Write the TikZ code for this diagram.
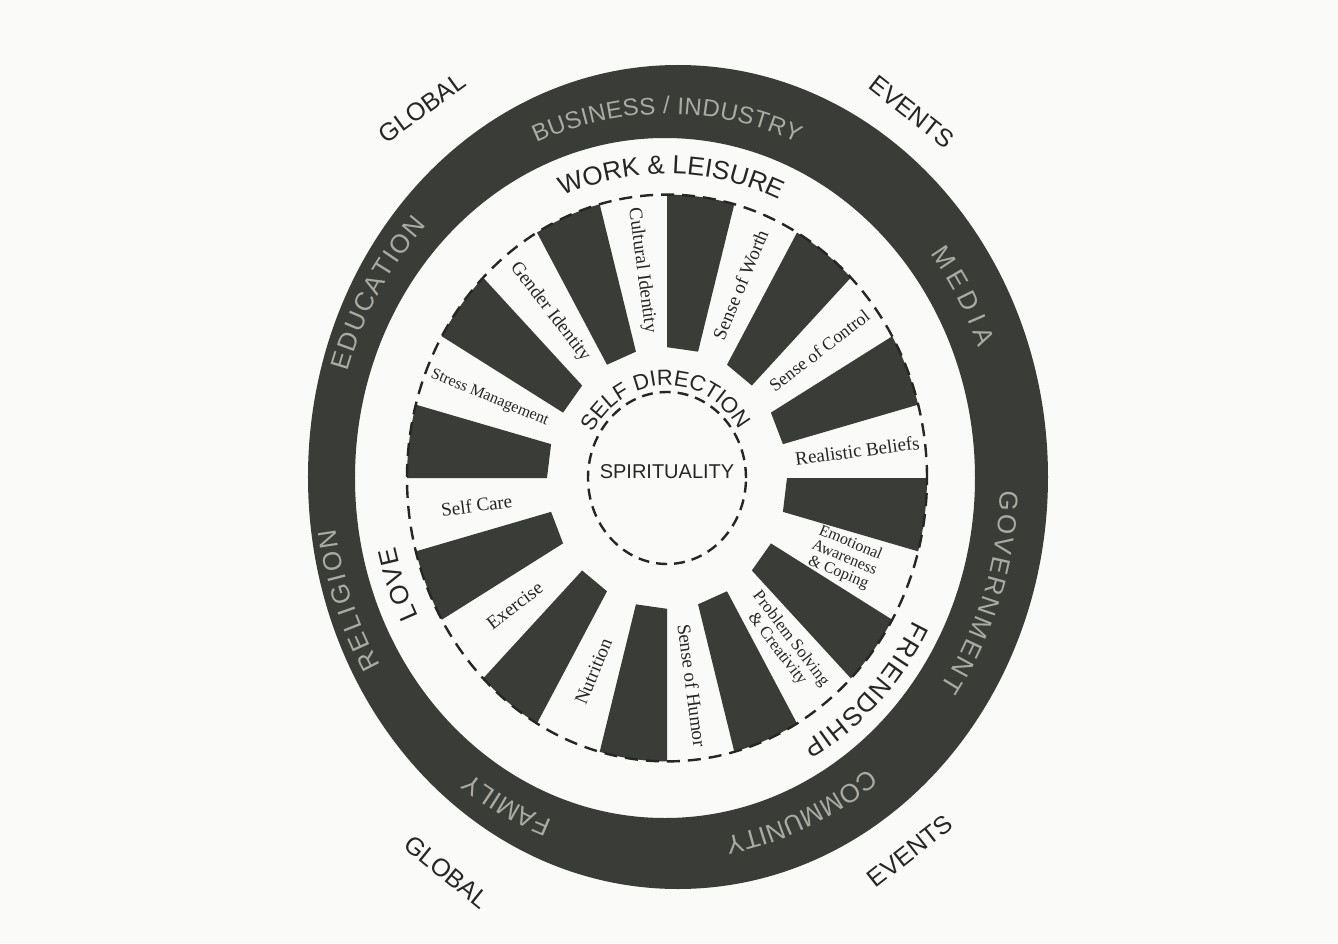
\documentclass[tikz,border=0pt]{standalone}
\usepackage{fontspec}
\setmainfont{Liberation Serif}
\setsansfont{Liberation Sans}
\usetikzlibrary{decorations.text}

\definecolor{paper}{RGB}{250,250,248}
\definecolor{ringdark}{RGB}{58,60,55}
\definecolor{ringtext}{RGB}{168,170,163}
\definecolor{inkdark}{RGB}{38,38,36}

\newcommand{\ringfont}[1]{\sffamily\fontsize{#1}{#1}\selectfont\color{ringtext}}
\newcommand{\bandfont}{\sffamily\fontsize{26}{26}\selectfont\color{inkdark}}
% curved text: radius, from angle, to angle, font, text
\newcommand{\arctext}[5]{%
    \path[decorate,decoration={text along path,text align=fit to path,text={|#4|#5}}]
        ({#1*cos(#2)},{#1*sin(#2)}) arc[start angle=#2,end angle=#3,x radius=#1pt,y radius=1.09*#1pt];
}

\begin{document}
\begin{tikzpicture}[
            x=1pt,y=1.09pt,
            every node/.style={
                inner sep=1pt,text=inkdark
            },
            spoke/.style={align=center,font=\rmfamily},
            outer label/.style={font=\sffamily\fontsize{25}{25}\selectfont},
            dashline/.style={inkdark,line width=2.4pt,dash pattern=on 13pt off 8pt}
        ]
    \useasboundingbox (-667pt,-465pt) rectangle (671pt,478pt);
    \fill[paper] (-667pt,-465pt) rectangle (671pt,478pt);
    % Rings
        \fill[ringdark,even odd rule] (11pt,1pt) ellipse (370pt and 412pt)
            (-2pt,0pt) ellipse (310pt and 340pt);
    \foreach\a in {0,30,...,330}{
        \fill[ringdark] ({120*cos(\a-15)},{120*sin(\a-15)}) -- ({120*cos(\a)},{120*sin(\a)})
            -- ({260*cos(\a)},{260*sin(\a)}) arc[start angle=\a,end angle=\a-15,x radius=260pt,y radius=283.4pt] -- cycle;
    }
        \draw[dashline] (0,0) ellipse (260pt and 283.4pt);
        \draw[dashline,dash pattern=on 11pt off 7pt] (0,0) ellipse (79pt and 86pt);
    % Spokes
    \foreach\a/\fs/\txt [count=\k] in {7.5/19/Realistic Beliefs,37.5/18/Sense of Control,
            67.5/19/Sense of Worth,97.5/19/Cultural Identity,127.5/19/Gender Identity,
            157.5/16/Stress Management,187.5/19/Self Care,217.5/19/Exercise,
            247.5/19/Nutrition,277.5/19/Sense of Humor,307.5/17/Problem Solving\\ \& Creativity,
            337.5/16/Emotional\\ Awareness\\ \& Coping}{
        \pgfmathsetmacro\rot{(\a>90 && \a<270) ? \a-180 : \a}
        \node[spoke,rotate=\rot,font=\rmfamily\fontsize{\fs}{\fs}\selectfont] (spoke\k)
            at ({192*cos(\a)},{192*sin(\a)}) {\txt};
    }
    % Labels
        \node[font=\sffamily\fontsize{20}{20}\selectfont] (spirit) at (0pt,6pt) {SPIRITUALITY};
        \arctext{85}{151}{32}{\sffamily\fontsize{22}{22}\selectfont\color{inkdark}}{SELF DIRECTION}
        \arctext{279}{112}{67}{\bandfont}{WORK {\&} LEISURE}
        \arctext{279}{207}{193}{\bandfont}{LOVE}
        \arctext{279}{-28}{-61}{\bandfont}{FRIENDSHIP}
        \arctext{334}{113}{67}{\ringfont{24}}{BUSINESS / INDUSTRY}
        \arctext{334}{38}{21}{\ringfont{26}}{MEDIA}
        \arctext{334}{-2}{-35}{\ringfont{26}}{GOVERNMENT}
        \arctext{334}{-53}{-80}{\ringfont{26}}{COMMUNITY}
        \arctext{334}{250}{234}{\ringfont{26}}{FAMILY}
        \arctext{334}{211}{188}{\ringfont{26}}{RELIGION}
        \arctext{334}{163}{136}{\ringfont{26}}{EDUCATION}
        \node[outer label,rotate=36] (globaltop) at (-245pt,370pt) {GLOBAL};
        \node[outer label,rotate=-38] (eventstop) at (245pt,366pt) {EVENTS};
        \node[outer label,rotate=-39] (globalbot) at (-220pt,-394pt) {GLOBAL};
        \node[outer label,rotate=38] (eventsbot) at (243pt,-373pt) {EVENTS};
\end{tikzpicture}
\end{document}
